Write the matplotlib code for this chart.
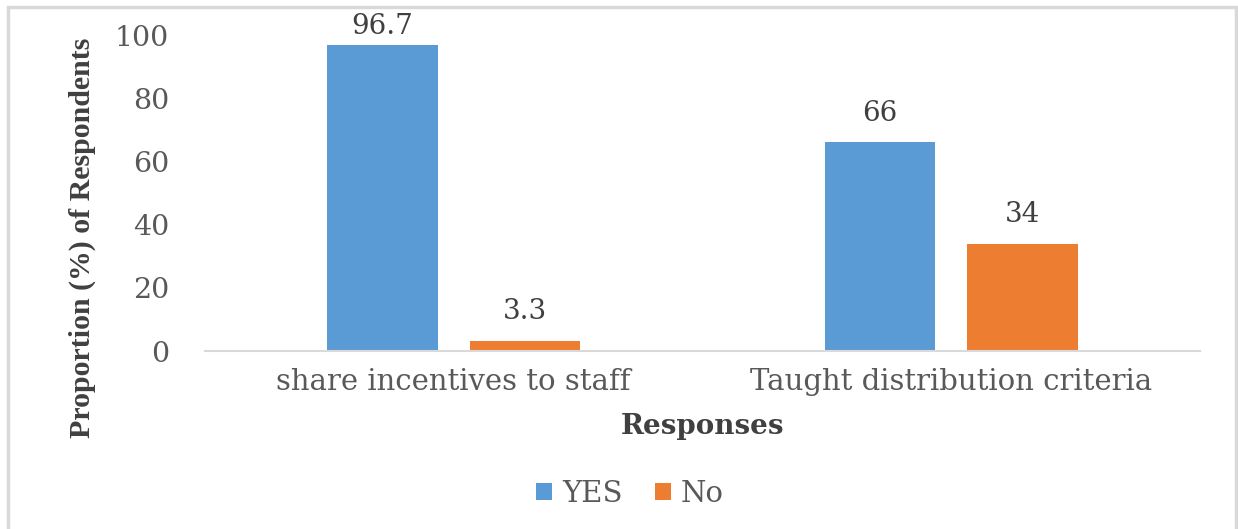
import numpy as np
import matplotlib
matplotlib.use('Agg')
import matplotlib.pyplot as plt
from matplotlib.patches import Rectangle

# chart values
categories = ['share incentives to staff', 'Taught distribution criteria']
yes_vals = [96.7, 66]
no_vals = [3.3, 34]
series_names = ['YES', 'No']
yticks = [0, 20, 40, 60, 80, 100]

plt.rcParams['font.family'] = ['DejaVu Serif']

W, H = 1238, 529
fig = plt.figure(figsize=(W / 100, H / 100), dpi=100)
ax = fig.add_axes([205 / W, 1 - 351 / H, 995 / W, 316 / H])

x = np.arange(len(categories))
w = 0.222
off = 0.143
b1 = ax.bar(x - off, yes_vals, w, color='#5B9BD5', label=series_names[0])
b2 = ax.bar(x + off, no_vals, w, color='#ED7D31', label=series_names[1])

labs = []
labs += ax.bar_label(b1, labels=[f'{v:g}' for v in yes_vals], padding=11, fontsize=20, color='#404040')
labs += ax.bar_label(b2, labels=[f'{v:g}' for v in no_vals], padding=11, fontsize=20, color='#404040')
# the tallest label gets squeezed under the chart border, like Excel does
for lab, v in zip(labs, yes_vals + no_vals):
    if v > 90:
        lab.xyann = (0, 4)

ax.set_xlim(-0.5, len(categories) - 0.5)
ax.set_ylim(0, 100)
ax.set_yticks(yticks)
ax.set_xticks(x)
ax.set_xticklabels(categories)
for s in ['top', 'left', 'right']:
    ax.spines[s].set_visible(False)
ax.spines['bottom'].set_color('#D9D9D9')
ax.spines['bottom'].set_linewidth(1.5)
ax.tick_params(axis='y', length=0, pad=26, labelsize=20.5, labelcolor='#595959')
ax.tick_params(axis='x', length=0, pad=12, labelsize=21, labelcolor='#595959')

fig.text(702 / W, 1 - 427 / H, 'Responses', ha='center', va='center',
         fontsize=20, fontweight='bold', color='#404040')
fig.text(82 / W, 1 - 238 / H, 'Proportion (%) of Respondents', ha='center', va='center',
         rotation=90, fontsize=21.5, fontweight='bold', color='#404040',
         family=['Liberation Serif', 'DejaVu Serif'])

leg = fig.legend(loc='center', bbox_to_anchor=(630 / W, 1 - 494 / H), ncol=2,
                 frameon=False, fontsize=21, handlelength=0.55, handleheight=0.55,
                 handletextpad=0.35, columnspacing=1.1)
for t in leg.get_texts():
    t.set_color('#595959')

fig.patches.append(Rectangle((8 / W, -0.05), (1236 - 8) / W, (529 - 7) / H + 0.05,
                             transform=fig.transFigure, fill=False,
                             edgecolor='#D9D9D9', linewidth=2.5))

fig.savefig('out.png', dpi=100)
